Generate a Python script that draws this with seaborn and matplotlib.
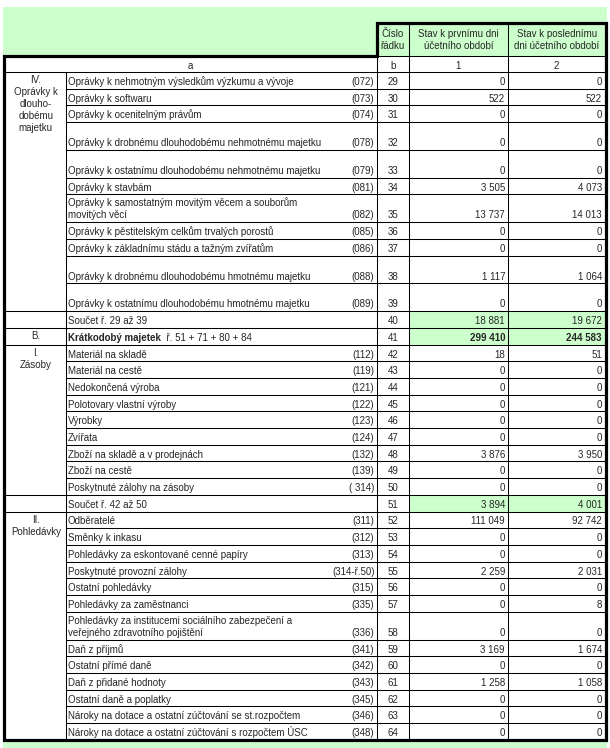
import matplotlib
matplotlib.use("Agg")
import matplotlib.pyplot as plt
import seaborn as sns

# --- table content -------------------------------------------------------
row_nums = list(range(29, 65))
labels = [
    "Oprávky k nehmotným výsledkům výzkumu a vývoje",
    "Oprávky k softwaru",
    "Oprávky k ocenitelným právům",
    "Oprávky k drobnému dlouhodobému nehmotnému majetku",
    "Oprávky k ostatnímu dlouhodobému nehmotnému majetku",
    "Oprávky k stavbám",
    "Oprávky k samostatným movitým věcem a souborům\nmovitých věcí",
    "Oprávky k pěstitelským celkům trvalých porostů",
    "Oprávky k základnímu stádu a tažným zvířatům",
    "Oprávky k drobnému dlouhodobému hmotnému majetku",
    "Oprávky k ostatnímu dlouhodobému hmotnému majetku",
    "Součet ř. 29 až 39",
    "Krátkodobý majetek",
    "Materiál na skladě",
    "Materiál na cestě",
    "Nedokončená výroba",
    "Polotovary vlastní výroby",
    "Výrobky",
    "Zvířata",
    "Zboží na skladě a v prodejnách",
    "Zboží na cestě",
    "Poskytnuté zálohy na zásoby",
    "Součet ř. 42 až 50",
    "Odběratelé",
    "Směnky k inkasu",
    "Pohledávky za eskontované cenné papíry",
    "Poskytnuté provozní zálohy",
    "Ostatní pohledávky",
    "Pohledávky za zaměstnanci",
    "Pohledávky za institucemi sociálního zabezpečení a\nveřejného zdravotního pojištění",
    "Daň z příjmů",
    "Ostatní přímé daně",
    "Daň z přidané hodnoty",
    "Ostatní daně a poplatky",
    "Nároky na dotace a ostatní zúčtování se st.rozpočtem",
    "Nároky na dotace a ostatní zúčtování s rozpočtem ÚSC",
]
codes = [
    "(072)", "(073)", "(074)", "(078)", "(079)", "(081)", "(082)", "(085)",
    "(086)", "(088)", "(089)", "", "", "(112)", "(119)", "(121)", "(122)",
    "(123)", "(124)", "(132)", "(139)", "( 314)", "", "(311)", "(312)",
    "(313)", "(314-ř.50)", "(315)", "(335)", "(336)", "(341)", "(342)",
    "(343)", "(345)", "(346)", "(348)",
]
start_vals = [
    0, 522, 0, 0, 0, 3505, 13737, 0, 0, 1117, 0, 18881, 299410,
    18, 0, 0, 0, 0, 0, 3876, 0, 0, 3894,
    111049, 0, 0, 2259, 0, 0, 0, 3169, 0, 1258, 0, 0, 0,
]
end_vals = [
    0, 522, 0, 0, 0, 4073, 14013, 0, 0, 1064, 0, 19672, 244583,
    51, 0, 0, 0, 0, 0, 3950, 0, 0, 4001,
    92742, 0, 0, 2031, 0, 8, 0, 1674, 0, 1058, 0, 0, 0,
]
b_suffix = "  ř. 51 + 71 + 80 + 84"
sections = [
    ("IV.\nOprávky k\ndlouho-\ndobému\nmajetku", 29, 39),
    ("B.", 41, 41),
    ("I.\nZásoby", 42, 50),
    ("II.\nPohledávky", 52, 64),
]
head_cols = ["Číslo\nřádku", "Stav k prvnímu dni\núčetního období",
             "Stav k poslednímu\ndni účetního období"]
sub_head = ["a", "b", "1", "2"]
sum_rows = [40, 41, 51]
bold_rows = [41]
tall_rows = [32, 33, 35, 38, 39, 58]
break_rows = [29, 40, 41, 42, 51, 52]

# --- layout (pixel units) ------------------------------------------------
GREEN = "#ccffcc"
X_L, X_SEC, X_NUM, X_C1, X_C2, X_R = 3.5, 66, 377, 409, 508, 605.5
Y_TOP, Y_HEAD, Y_SUB = 22.5, 55.5, 72
H1, H2 = 16.7, 27.8
FS = 7.0
THIN, THICK = 0.75, 2.3


def fmt(v):
    return f"{v:,}".replace(",", " ")


sns.set_theme(style="white")
plt.rcParams["font.family"] = ["Liberation Sans", "DejaVu Sans"]

fig = plt.figure(figsize=(6.10, 7.48), dpi=100)
ax = fig.add_axes([0, 0, 1, 1])
ax.set_xlim(0, 610)
ax.set_ylim(748, 0)
ax.axis("off")

# row boundaries
tops, bots = {}, {}
y = Y_SUB
for r in row_nums:
    tops[r] = y
    y += H2 if r in tall_rows else H1
    bots[r] = y
Y_BOT = y

# green backgrounds
ax.fill_between([3, 607], 7, Y_HEAD, color=GREEN, lw=0)
ax.fill_between([3, 607], Y_BOT + 2, 748, color=GREEN, lw=0)
for r in sum_rows:
    ax.fill_between([X_C1, X_R], tops[r], bots[r], color=GREEN, lw=0)

# header texts
for txt, x0, x1 in zip(head_cols, [X_NUM, X_C1, X_C2], [X_C1, X_C2, X_R]):
    ax.text((x0 + x1) / 2, (Y_TOP + Y_HEAD) / 2 + 1, txt, ha="center",
            va="center", fontsize=FS, linespacing=1.3)
for txt, x0, x1 in zip(sub_head, [X_L, X_NUM, X_C1, X_C2],
                       [X_NUM, X_C1, X_C2, X_R]):
    ax.text((x0 + x1) / 2, Y_SUB - 3.5, txt, ha="center", va="baseline",
            fontsize=FS)

# body rows
fig.canvas.draw()
for i, r in enumerate(row_nums):
    yb = bots[r] - 3.8
    weight = "bold" if r in bold_rows else "normal"
    t = ax.text(X_SEC + 2, yb, labels[i], ha="left", va="baseline",
                fontsize=FS, fontweight=weight, linespacing=1.25)
    if r in bold_rows:
        bb = t.get_window_extent(renderer=fig.canvas.get_renderer())
        x_after = ax.transData.inverted().transform((bb.x1, 0))[0]
        ax.text(x_after, yb, b_suffix, ha="left", va="baseline", fontsize=FS)
    ax.text(X_NUM - 2.5, yb, codes[i], ha="right", va="baseline", fontsize=FS)
    ax.text((X_NUM + X_C1) / 2, yb, str(r), ha="center", va="baseline",
            fontsize=FS)
    ax.text(X_C2 - 3, yb, fmt(start_vals[i]), ha="right", va="baseline",
            fontsize=FS, fontweight=weight)
    ax.text(X_R - 3.5, yb, fmt(end_vals[i]), ha="right", va="baseline",
            fontsize=FS, fontweight=weight)

# section labels
for txt, r0, r1 in sections:
    ax.text((X_L + X_SEC) / 2 + 1, tops[r0] + 3, txt, ha="center", va="top",
            fontsize=FS, linespacing=1.25)

# grid lines
for r in row_nums:
    x0 = X_L if r in break_rows else X_SEC
    ax.plot([x0, X_R], [tops[r], tops[r]], color="black", lw=THIN)
ax.plot([X_NUM, X_R], [Y_HEAD, Y_HEAD], color="black", lw=THIN)
for x in [X_C1, X_C2]:
    ax.plot([x, x], [Y_TOP, Y_BOT], color="black", lw=THIN)
ax.plot([X_NUM, X_NUM], [Y_HEAD, Y_BOT], color="black", lw=THIN)
ax.plot([X_SEC, X_SEC], [Y_SUB, Y_BOT], color="black", lw=THIN)

# thick outline
ax.plot([X_NUM, X_NUM, X_R, X_R, X_L, X_L, X_NUM],
        [Y_HEAD, Y_TOP, Y_TOP, Y_BOT, Y_BOT, Y_HEAD, Y_HEAD],
        color="black", lw=THICK, solid_joinstyle="miter")

fig.savefig("out.png", dpi=100)
